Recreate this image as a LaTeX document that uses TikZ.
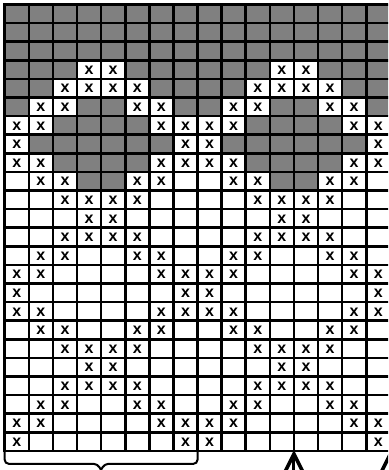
\documentclass[tikz,border=0pt]{standalone}
\usepackage{fontspec}
\setmainfont{Liberation Sans}
\usetikzlibrary{calc}
\definecolor{cellgray}{HTML}{808080}
\tikzset{
  gridline/.style={line width=2.6pt, black, line cap=rect},
  xmark/.style={font=\bfseries\fontsize{16}{16}\selectfont, inner sep=0pt, text=black},
  bracepath/.style={line width=2pt, rounded corners=4pt},
  arrowshaft/.style={line width=3pt},
  arrowhead/.style={line width=3.6pt, line join=miter, miter limit=10}
}
\begin{document}
\begin{tikzpicture}[x=1pt,y=-1pt]
\useasboundingbox (0,0) rectangle (388,470);
\fill[white] (0,0) rectangle (388,470);
\clip (0,0) rectangle (388,470);
\foreach \row [count=\r] in {
 {1,1,1,1,1,1,1,1,1,1,1,1,1,1,1,1},
 {1,1,1,1,1,1,1,1,1,1,1,1,1,1,1,1},
 {1,1,1,1,1,1,1,1,1,1,1,1,1,1,1,1},
 {1,1,1,2,2,1,1,1,1,1,1,2,2,1,1,1},
 {1,1,2,2,2,2,1,1,1,1,2,2,2,2,1,1},
 {1,2,2,1,1,2,2,1,1,2,2,1,1,2,2,1},
 {2,2,1,1,1,1,2,2,2,2,1,1,1,1,2,2},
 {2,1,1,1,1,1,1,2,2,1,1,1,1,1,1,2},
 {2,2,1,1,1,1,2,2,2,2,1,1,1,1,2,2},
 {0,2,2,1,1,2,2,0,0,2,2,1,1,2,2,0},
 {0,0,2,2,2,2,0,0,0,0,2,2,2,2,0,0},
 {0,0,0,2,2,0,0,0,0,0,0,2,2,0,0,0},
 {0,0,2,2,2,2,0,0,0,0,2,2,2,2,0,0},
 {0,2,2,0,0,2,2,0,0,2,2,0,0,2,2,0},
 {2,2,0,0,0,0,2,2,2,2,0,0,0,0,2,2},
 {2,0,0,0,0,0,0,2,2,0,0,0,0,0,0,2},
 {2,2,0,0,0,0,2,2,2,2,0,0,0,0,2,2},
 {0,2,2,0,0,2,2,0,0,2,2,0,0,2,2,0},
 {0,0,2,2,2,2,0,0,0,0,2,2,2,2,0,0},
 {0,0,0,2,2,0,0,0,0,0,0,2,2,0,0,0},
 {0,0,2,2,2,2,0,0,0,0,2,2,2,2,0,0},
 {0,2,2,0,0,2,2,0,0,2,2,0,0,2,2,0},
 {2,2,0,0,0,0,2,2,2,2,0,0,0,0,2,2},
 {2,0,0,0,0,0,0,2,2,0,0,0,0,0,0,2}} {
  \foreach \c [count=\k] in \row {
    \pgfmathsetmacro\cx{4.7+24.1*(\k-1)}
    \pgfmathsetmacro\cy{4.5+18.6*(\r-1)}
    \ifnum\c=1 \fill[cellgray] (\cx,\cy) rectangle ++(24.1,18.6);\fi
    \ifnum\c=2 \node[xmark] (x-\r-\k) at (\cx+12.05,\cy+9.8) {x};\fi
  }
}
\foreach \i in {0,...,16} \draw[gridline] ({4.7+24.1*\i},4.5) -- ({4.7+24.1*\i},450.9);
\foreach \j in {0,...,24} \draw[gridline] (4.7,{4.5+18.6*\j}) -- (390.3,{4.5+18.6*\j});
% brace under columns 1-8
\coordinate (bl) at (4.7,451);
\coordinate (br) at (197.5,451);
\coordinate (btip) at (101,470);
\draw[bracepath] (bl) |- (97.5,463.8) -- (btip);
\draw[bracepath] (btip) -- (104.5,463.8) -| (br);
% arrows
\coordinate (a1) at (293.9,454);
\coordinate (a1s) at (293.9,480);
\draw[arrowshaft] (a1s) -- (a1);
\draw[arrowhead] ($(a1)+(-9,18)$) -- (a1) -- ($(a1)+(9,18)$);
\coordinate (a2) at (390.3,454);
\coordinate (a2s) at (390.3,480);
\draw[arrowshaft] (a2s) -- (a2);
\draw[arrowhead] ($(a2)+(-9,18)$) -- (a2) -- ($(a2)+(9,18)$);
\end{tikzpicture}
\end{document}
